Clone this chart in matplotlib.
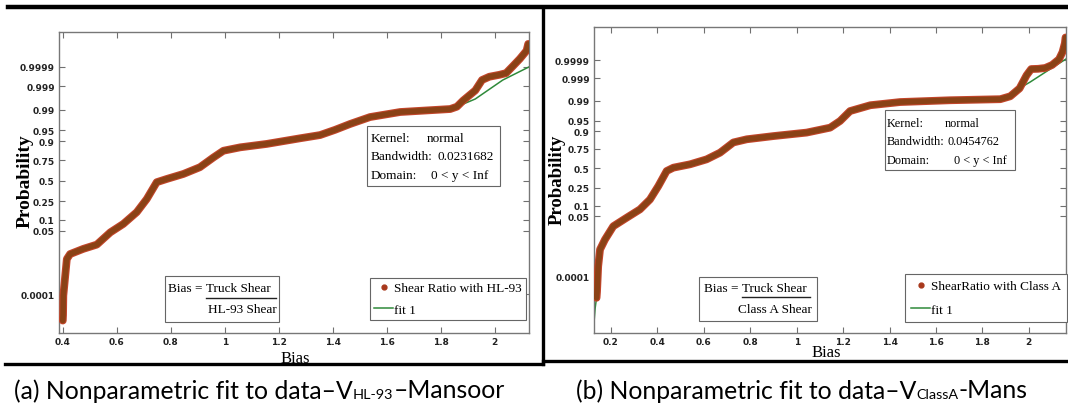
import matplotlib
matplotlib.use("Agg")
import matplotlib.pyplot as plt
import matplotlib.patheffects as pe
from matplotlib.lines import Line2D
from matplotlib.patches import Rectangle
from statistics import NormalDist

# ---- data (bias, cumulative probability) ----
# (a) Shear Ratio with HL-93
bias_a = [0.400, 0.401, 0.402, 0.415, 0.427, 0.476, 0.526, 0.576, 0.624, 0.674,
          0.711, 0.748, 0.785, 0.847, 0.908, 0.958, 0.995, 1.057, 1.155, 1.279,
          1.353, 1.408, 1.464, 1.538, 1.650, 1.835, 1.860, 1.883, 1.928, 1.953,
          1.980, 2.017, 2.042, 2.068, 2.093, 2.118, 2.124]
prob_a = [2.4e-6, 5.7e-6, 8.5e-5, 0.0052, 0.0082, 0.0129, 0.0183, 0.0455, 0.0785, 0.1515,
          0.274, 0.480, 0.522, 0.587, 0.670, 0.776, 0.836, 0.862, 0.885, 0.917,
          0.932, 0.9515, 0.968, 0.9812, 0.9876, 0.9904, 0.9922, 0.9956, 0.99841, 0.99950,
          0.99966, 0.99973, 0.99978, 0.999912, 0.999966, 0.9999893, 0.9999961]
# fit 1 (a): follows the data up to 1.86, then its own upper tail
fit_tail_bias_a = [1.928, 2.030, 2.127]
fit_tail_prob_a = [0.99621, 0.99950, 0.99990]

# (b) ShearRatio with Class A
bias_b = [0.138, 0.140, 0.145, 0.153, 0.174, 0.210, 0.267, 0.325, 0.368, 0.404,
          0.440, 0.469, 0.541, 0.612, 0.670, 0.727, 0.785, 0.900, 1.043, 1.144,
          1.187, 1.230, 1.317, 1.446, 1.660, 1.877, 1.920, 1.960, 1.990, 2.010,
          2.040, 2.070, 2.100, 2.130, 2.145, 2.155, 2.158]
prob_b = [4.3e-6, 1.1e-5, 3.76e-4, 0.00264, 0.00714, 0.0233, 0.0446, 0.0793, 0.1423, 0.2709,
          0.4641, 0.5096, 0.5557, 0.6217, 0.7054, 0.8133, 0.8413, 0.8665, 0.8907, 0.9192,
          0.9484, 0.9756, 0.9850, 0.9887, 0.9904, 0.9913, 0.9934, 0.99702, 0.99931, 0.99968,
          0.99969, 0.99972, 0.99981, 0.999912, 0.9999683, 0.99999146, 0.9999966]
fit_head_bias_b = [0.127, 0.132]
fit_head_prob_b = [5.8e-8, 7.9e-7]
fit_tail_bias_b = [1.930, 2.006, 2.080, 2.160]
fit_tail_prob_b = [0.99560, 0.99851, 0.99960, 0.999915]

prob_ticks = [0.0001, 0.05, 0.1, 0.25, 0.5, 0.75, 0.9, 0.95, 0.99, 0.999, 0.9999]
prob_tick_labels = ['0.0001', '0.05', '0.1', '0.25', '0.5', '0.75', '0.9', '0.95',
                    '0.99', '0.999', '0.9999']
xticks_a = [0.4, 0.6, 0.8, 1.0, 1.2, 1.4, 1.6, 1.8, 2.0]
xticks_b = [0.2, 0.4, 0.6, 0.8, 1.0, 1.2, 1.4, 1.6, 1.8, 2.0]

W, H = 1068, 414
nd = NormalDist()
BROWN = '#8a4216'
RED = '#c2452a'
GREEN = '#2f8a3a'
SERIF = 'Liberation Serif'


def zs(p):
    return [nd.inv_cdf(v) for v in p]


def fx(x):
    return x / W


def fy(y):
    return 1 - y / H


fig = plt.figure(figsize=(W / 100, H / 100), dpi=100)
fig.patch.set_facecolor('white')


def panel(px_box, bias, prob, fit_b, fit_p, xlim, zlim, xticks):
    x0, y0, x1, y1 = px_box
    ax = fig.add_axes([fx(x0), fy(y1), (x1 - x0) / W, (y1 - y0) / H])
    ax.plot(fit_b, zs(fit_p), color=GREEN, lw=1.1, zorder=2)
    ax.plot(bias, zs(prob), color=BROWN, lw=4.0, solid_capstyle='round',
            solid_joinstyle='round', zorder=3,
            path_effects=[pe.Stroke(linewidth=5.6, foreground=RED), pe.Normal()])
    ax.set_xlim(*xlim)
    ax.set_ylim(*zlim)
    ax.set_xticks(xticks)
    ax.set_xticklabels(['%g' % v for v in xticks])
    ax.set_yticks(zs(prob_ticks))
    ax.set_yticklabels(prob_tick_labels)
    ax.tick_params(direction='in', top=True, right=True, length=4, width=0.8,
                   color='#707070', pad=3)
    for lab in ax.get_xticklabels() + ax.get_yticklabels():
        lab.set_fontfamily('Liberation Sans Narrow')
        lab.set_fontweight('bold')
        lab.set_fontsize(6.5)
        lab.set_color('#222222')
    for sp in ax.spines.values():
        sp.set_color('#777777')
        sp.set_linewidth(1.0)
    handles = [Line2D([], [], ls='none', marker='o', ms=3.5, color='#a8391c'),
               Line2D([], [], color=GREEN, lw=1.1)]
    return ax, handles


ax_a, h_a = panel((59, 33, 529, 334), bias_a, prob_a,
                  bias_a[:27] + fit_tail_bias_a, prob_a[:27] + fit_tail_prob_a,
                  (0.386, 2.127), (-4.98, 4.86), xticks_a)
ax_b, h_b = panel((594, 28, 1066, 334), bias_b, prob_b,
                  fit_head_bias_b + bias_b[:26] + fit_tail_bias_b,
                  fit_head_prob_b + prob_b[:26] + fit_tail_prob_b,
                  (0.127, 2.16), (-5.66, 4.86), xticks_b)

leg_font = {'family': SERIF, 'size': 9.5}
for ax, h, lab, (lx, ly), sp, bp in [(ax_a, h_a, 'Shear Ratio with HL-93', (370, 279), 0.7, 0.3),
                                     (ax_b, h_b, 'ShearRatio with Class A', (905, 275), 0.85, 0.45)]:
    leg = ax.legend(h, [lab, 'fit 1'], loc='upper left',
                    bbox_to_anchor=(fx(lx), fy(ly)), bbox_transform=fig.transFigure,
                    borderaxespad=0, prop=leg_font, handlelength=1.45, handletextpad=0.1,
                    labelspacing=sp, borderpad=bp, fancybox=False, framealpha=1)
    leg.get_frame().set_edgecolor('#666666')
    leg.get_frame().set_linewidth(0.8)


def box(x0, y0, x1, y1):
    fig.add_artist(Rectangle((fx(x0), fy(y1)), (x1 - x0) / W, (y1 - y0) / H,
                             transform=fig.transFigure, facecolor='white',
                             edgecolor='#666666', lw=0.8, zorder=4))


def ftext(x, y, s, **kw):
    kw.setdefault('family', SERIF)
    kw.setdefault('size', 9.5)
    kw.setdefault('va', 'center')
    kw.setdefault('zorder', 6)
    return fig.text(fx(x), fy(y), s, **kw)


# kernel boxes
box(367, 127, 500, 187)
for y, a, b, bx in [(139, 'Kernel:', 'normal', 427), (157.5, 'Bandwidth:', '0.0231682', 437),
                    (176, 'Domain:', '0 < y < Inf', 431)]:
    ftext(371, y, a)
    ftext(bx, y, b)
box(885, 111, 1015, 171)
for y, a, b, bx in [(124, 'Kernel:', 'normal', 945), (142.5, 'Bandwidth:', '0.0454762', 947),
                    (161, 'Domain:', '0 < y < Inf', 954)]:
    ftext(887, y, a, size=8.8)
    ftext(bx, y, b, size=8.8)

# bias definition boxes
box(165, 277, 279, 323)
ftext(168, 289.5, 'Bias = ')
ftext(206, 289.5, 'Truck Shear')
fig.add_artist(Line2D([fx(206), fx(276)], [fy(299), fy(299)], color='#222222', lw=1.0,
                      transform=fig.transFigure, zorder=6))
ftext(208, 310, 'HL-93 Shear')
box(699, 278, 817, 322)
ftext(704, 289.5, 'Bias = ')
ftext(742, 289.5, 'Truck Shear')
fig.add_artist(Line2D([fx(742), fx(810)], [fy(298), fy(298)], color='#222222', lw=1.0,
                      transform=fig.transFigure, zorder=6))
ftext(738, 310.5, 'Class A Shear')

# axis labels
ftext(25, 181, 'Probability', size=14, weight='bold', rotation=90, ha='center')
ftext(557, 180, 'Probability', size=13.5, weight='bold', rotation=90, ha='center')
ftext(295, 359, 'Bias', size=12, ha='center')
ftext(826, 353, 'Bias', size=12, ha='center')

# frame lines of the composite figure; the lower band hides the cut-off label part
fig.add_artist(Rectangle((0, 0), fx(543), fy(365), transform=fig.transFigure,
                         facecolor='white', edgecolor='none', zorder=7))
for xs, ys, lw in [((8, 1068), (8.3, 8.3), 3.2), ((543, 543), (8, 365), 2.4),
                   ((5, 543), (364.5, 364.5), 2.4), ((543, 1068), (362, 362), 2.4)]:
    fig.add_artist(Line2D([fx(v) for v in xs], [fy(v) for v in ys], color='black', lw=lw,
                          transform=fig.transFigure, zorder=8))

# captions with subscripts
renderer = fig.canvas.get_renderer()


def caption(xc, y, parts, size=17.8):
    texts = []
    for s, sub in parts:
        t = fig.text(0, fy(y + (4 if sub else 0)), s, family='Lato',
                     size=size * (0.58 if sub else 1), va='center', zorder=9)
        texts.append(t)
    widths = [t.get_window_extent(renderer).width for t in texts]
    x = xc - sum(widths) / 2
    for t, w in zip(texts, widths):
        t.set_x(fx(x))
        x += w


caption(259.5, 391, [('(a) Nonparametric fit to data\u2013V', False), ('HL-93', True),
                     ('\u2013Mansoor', False)])
caption(802, 391, [('(b) Nonparametric fit to data\u2013V', False), ('ClassA', True),
                   ('-Mans', False)])

fig.savefig('out.png', dpi=100)
